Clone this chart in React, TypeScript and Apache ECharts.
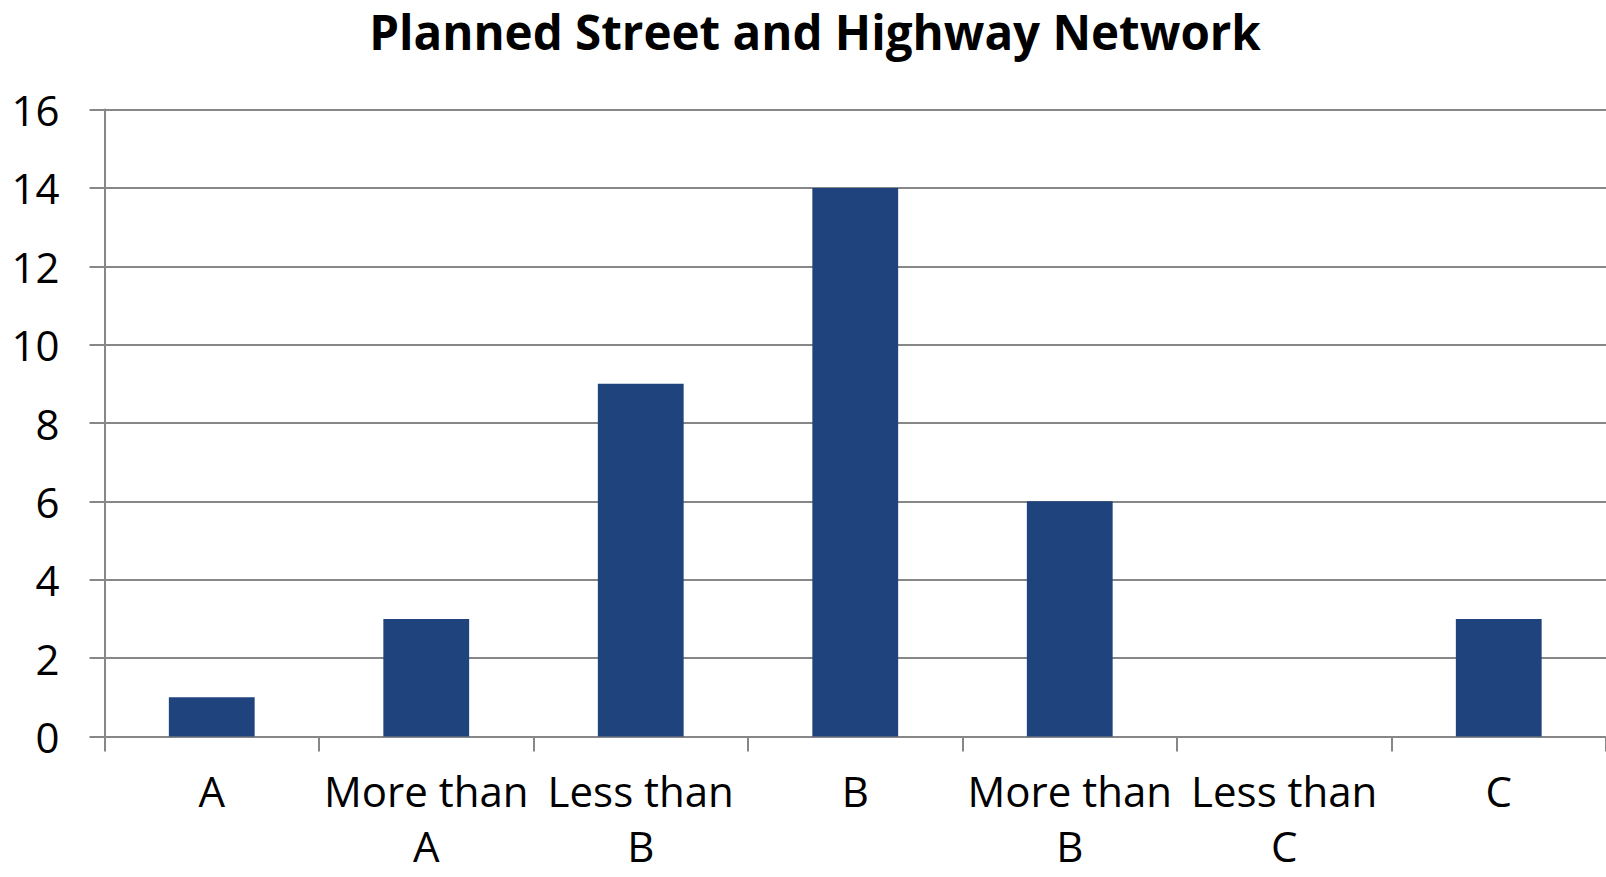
import React, { useEffect, useRef } from "react";
import * as echarts from "echarts";

const TITLE = "Planned Street and Highway Network";
const categories = ["A", "More than A", "Less than B", "B", "More than B", "Less than C", "C"];
const values = [1, 3, 9, 14, 6, 0, 3];
const yMin = 0;
const yMax = 16;
const yInterval = 2;

function firstLine(v: string) {
  const i = v.indexOf(" than ");
  return i >= 0 ? v.slice(0, i + 5) : v;
}
function secondLine(v: string) {
  const i = v.indexOf(" than ");
  return i >= 0 ? v.slice(i + 6) : "";
}

export default function App() {
  const ref = useRef<HTMLDivElement>(null);
  useEffect(() => {
    document.body.style.margin = "0";
    const chart = echarts.init(ref.current!, null, { renderer: "svg" });
    const gray = "#878787";
    const font = "'Open Sans', 'Noto Sans', sans-serif";
    const labelBase = {
      interval: 0,
      color: "#000000",
      fontFamily: font,
      fontSize: 42,
    };
    chart.setOption({
      animation: false,
      backgroundColor: "#ffffff",
      graphic: [
        {
          type: "text",
          x: 815,
          y: 31,
          style: {
            text: TITLE,
            fontFamily: font,
            fontWeight: "bold",
            fontSize: 47.5,
            fill: "#000000",
            textAlign: "center",
            textVerticalAlign: "middle",
          },
        },
      ],
      grid: {
        left: 104.5,
        right: 0,
        top: 109.6,
        bottom: 140.6,
        containLabel: false,
        outerBoundsMode: "none",
      },
      xAxis: [
        {
          type: "category",
          data: categories,
          position: "bottom",
          axisLine: { show: true, lineStyle: { color: gray, width: 2 } },
          axisTick: { show: true, length: 15, alignWithLabel: false, lineStyle: { color: gray, width: 2 } },
          axisLabel: {
            ...labelBase,
            margin: 26,
            lineHeight: 57,
            formatter: (v: string) => firstLine(v),
          },
          splitLine: { show: false },
        },
        {
          type: "category",
          data: categories,
          position: "bottom",
          axisLine: { show: false },
          axisTick: { show: false },
          splitLine: { show: false },
          axisLabel: {
            ...labelBase,
            margin: 92,
            lineHeight: 34,
            formatter: (v: string) => secondLine(v),
          },
        },
      ],
      yAxis: {
        type: "value",
        min: yMin,
        max: yMax,
        interval: yInterval,
        axisLine: { show: true, lineStyle: { color: gray, width: 2 } },
        axisTick: { show: true, length: 15, lineStyle: { color: gray, width: 2 } },
        axisLabel: {
          margin: 45,
          color: "#000000",
          fontFamily: font,
          fontSize: 42,
        },
        splitLine: { show: true, lineStyle: { color: gray, width: 2 } },
      },
      series: [
        {
          type: "bar",
          xAxisIndex: 0,
          data: values,
          barWidth: "40%",
          itemStyle: { color: "#1F437C" },
        },
      ],
    });
    return () => chart.dispose();
  }, []);
  return <div ref={ref} style={{ width: 1606, height: 877 }} />;
}
